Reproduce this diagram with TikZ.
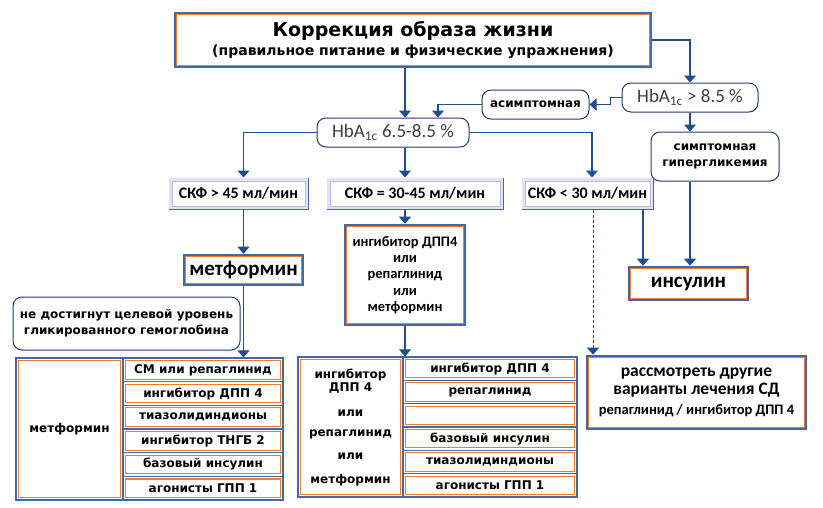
\documentclass[tikz,border=0pt]{standalone}
\usepackage{fontspec}
\setmainfont{DejaVu Sans}
\newfontfamily\calib{Carlito}
\definecolor{frameblue}{RGB}{68,104,166}
\definecolor{arrowblue}{RGB}{31,78,143}
\definecolor{roundblue}{RGB}{31,59,110}
\definecolor{orline}{RGB}{237,125,49}
\definecolor{lavband}{RGB}{226,226,242}
\definecolor{lavline}{RGB}{184,184,226}
\definecolor{hbgrey}{RGB}{64,64,64}
\usetikzlibrary{arrows.meta}

\begin{document}
\begin{tikzpicture}[x=1pt, y=-1pt, font=\bfseries,
	arr/.style={draw=arrowblue, line width=1.1pt, -{Triangle[width=12pt,length=7pt]}},
	mainbox/.style={draw=frameblue, line width=2.6pt, fill=white, inner sep=0pt, align=center},
	skfbox/.style={draw=frameblue, line width=1pt, fill=white, inner sep=0pt, minimum height=31pt,
		font=\calib\bfseries\fontsize{16}{18}\selectfont},
	roundbox/.style={draw=roundblue, line width=1pt, rounded corners=9pt, fill=white, inner sep=0pt, align=center},
	cellbox/.style={draw=frameblue, line width=1.2pt, fill=white, inner sep=0pt, align=center,
		font=\bfseries\fontsize{12}{14}\selectfont},
	orframe/.style={draw=orline, line width=1.1pt}]
			\useasboundingbox (0,0) rectangle (823,507);
			% Top
			\node[mainbox, minimum width=476pt, minimum height=54pt, font=\bfseries\fontsize{19}{19}\selectfont] (top) at (413,40)
				{Коррекция образа жизни\\\fontsize{14}{18}\selectfont (правильное питание и физические упражнения)};
			\node[roundbox, minimum width=152pt, minimum height=29pt, font=\calib\mdseries\fontsize{19}{21}\selectfont, text=hbgrey] (hba) at (393,132.5)
				{HbA\textsubscript{1c} 6.5-8.5 \%};
			\node[roundbox, minimum width=136pt, minimum height=29pt, font=\calib\mdseries\fontsize{19}{21}\selectfont, text=hbgrey] (hbb) at (690,97.5)
				{HbA\textsubscript{1c} > 8.5 \%};
			\node[roundbox, minimum width=107pt, minimum height=29pt, font=\bfseries\fontsize{12}{14}\selectfont] (asym) at (535.5,104.5) {асимптомная};
			\node[roundbox, minimum width=128pt, minimum height=49pt, font=\bfseries\fontsize{12}{16}\selectfont] (sym) at (715,156.5)
				{симптомная\\гипергликемия};
			
			% GFR
			\node[skfbox, minimum width=139pt] (skfhi) at (238.5,193.5) {СКФ > 45 мл/мин};
			\node[skfbox, minimum width=176pt] (skfmid) at (415,193.5) {СКФ = 30-45 мл/мин};
			\node[skfbox, minimum width=131pt] (skflow) at (587.5,193.5) {СКФ < 30 мл/мин};
			
			\node[mainbox, minimum width=119pt, minimum height=30pt, font=\calib\bfseries\fontsize{21}{23}\selectfont] (metf) at (243.5,270) {метформин};
			\node[mainbox, minimum width=119pt, minimum height=33pt, font=\calib\bfseries\fontsize{21}{23}\selectfont] (ins) at (688.5,283.5) {инсулин};
			\node[mainbox, minimum width=120pt, minimum height=100pt, font=\calib\bfseries\fontsize{14.5}{16.3}\selectfont] (ingib) at (405,275)
				{ингибитор ДПП4\\или\\репаглинид\\или\\метформин};
			\node[roundbox, minimum width=227pt, minimum height=53pt, font=\bfseries\fontsize{12}{16}\selectfont] (goal) at (126.5,323.5)
				{не достигнут целевой уровень\\гликированного гемоглобина};
			\node[mainbox, minimum width=219pt, minimum height=73pt, font=\calib\bfseries\fontsize{17.5}{18}\selectfont] (cons) at (696.5,392.5)
				{рассмотреть другие\\варианты лечения СД\\[2pt]\fontsize{14.5}{16}\selectfont репаглинид / ингибитор ДПП 4};
			
			% Tables
			\node[cellbox, minimum width=107pt, minimum height=142pt] (lmet) at (69.5,429) {метформин};
			\foreach \txt [count=\i] in {СМ или репаглинид, ингибитор ДПП 4, тиазолидиндионы, ингибитор ТНГБ 2, базовый инсулин, агонисты ГПП 1}
				\node[cellbox, minimum width=160pt, minimum height=23.67pt] (l\i) at (203,{358+23.67*(\i-0.5)}) {\txt};
			\node[cellbox, minimum width=105pt, minimum height=140pt, font=\bfseries\fontsize{12}{13}\selectfont] (mleft) at (350.5,427)
				{ингибитор\\ДПП 4\\[12pt]или\\[7pt]репаглинид\\[10pt]или\\[11pt]метформин};
			\foreach \txt [count=\i] in {ингибитор ДПП 4, репаглинид, \mbox{}, базовый инсулин, тиазолидиндионы, агонисты ГПП 1}
				\node[cellbox, minimum width=174pt, minimum height=23.33pt] (m\i) at (490,{357+23.33*(\i-0.5)}) {\txt};
			
			% Inner frames
			\foreach \n in {top,metf,ingib,ins,cons,lmet,l1,l2,l3,l4,l5,l6,mleft,m1,m2,m3,m4,m5,m6}
				\draw[orframe] ([shift={(3.2pt,-3.2pt)}]\n.north west) rectangle ([shift={(-3.2pt,3.2pt)}]\n.south east);
			\foreach \n in {skfhi,skfmid,skflow}
			{
				\draw[lavband, line width=3pt] ([shift={(2pt,-2pt)}]\n.north west) rectangle ([shift={(-2pt,2pt)}]\n.south east);
				\draw[lavline, line width=0.8pt] ([shift={(3.6pt,-3.6pt)}]\n.north west) rectangle ([shift={(-3.6pt,3.6pt)}]\n.south east);
			}
			
			% Arrows
			\draw[arr] (top.south -| ingib.north) -- (hba.north -| ingib.north);
			\draw[arr] (top.east) -| (hbb.north);
			\draw[arr] (hbb.west) -- ++(-11pt,0) |- (asym.east);
			\draw[arr] (asym.west) -| ([xshift=45pt]hba.north);
			\draw[arr] (hbb.south) -- (sym.north -| hbb.south);
			\draw[arr] (sym.south -| hbb.south) -- (ins.north -| hbb.south);
			\draw[arr] (hba.west) -| (skfhi.north -| metf.north);
			\draw[arr] (hba.south -| ingib.north) -- (skfmid.north -| ingib.north);
			\draw[arr] (hba.east) -| ([xshift=4.5pt]skflow.north);
			\draw[arr] (skfhi.south -| metf.north) -- (metf.north);
			\draw[arr] (skfmid.south -| ingib.north) -- (ingib.north);
			\draw[arr] ([xshift=55.5pt]skflow.south) -- ([xshift=55.5pt]skflow.south |- ins.north);
			\draw[arr, line width=0.8pt, dash pattern=on 3pt off 2pt] ([xshift=5.5pt]skflow.south) -- ([xshift=5.5pt]skflow.south |- cons.north);
			\draw[arr] (metf.south) -- (metf.south |- l1.north);
			\draw[arr] (ingib.south) -- (ingib.south |- m1.north);
			
		\end{tikzpicture}
\end{document}
